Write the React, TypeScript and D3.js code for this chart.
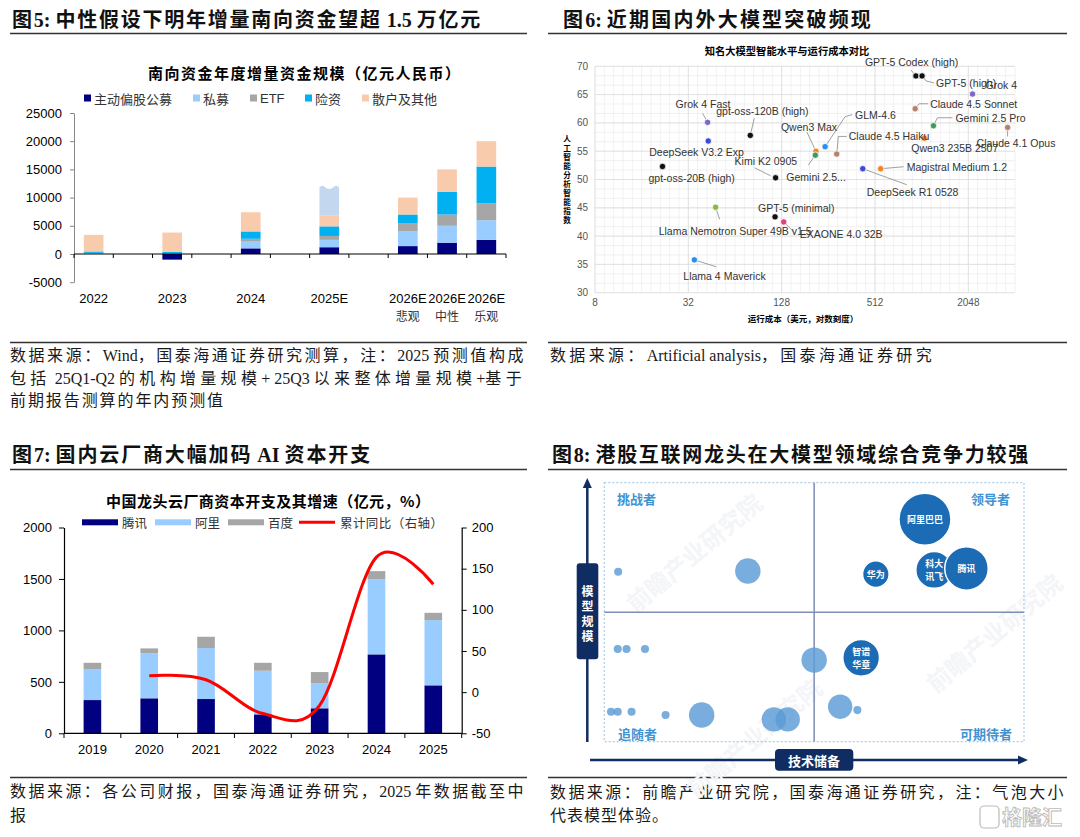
import React, { useEffect, useRef } from 'react';
import * as d3 from 'd3';

const W = 1080;
const H = 837;
const CJK = "'Noto Sans CJK SC', sans-serif";
const SERIF = "'Liberation Serif', 'Noto Sans CJK SC', serif";
const SANS = "'Liberation Sans', Arial, 'Noto Sans CJK SC', sans-serif";

// ---------- 图5 南向资金 ----------
const flowChartTitle = '南向资金年度增量资金规模（亿元人民币）';
const flowCategories = ['2022', '', '2023', '', '2024', '', '2025E', '', '2026E', '2026E', '2026E'];
const flowSubLabels = ['', '', '', '', '', '', '', '', '悲观', '中性', '乐观'];
const flowSeries = ['主动偏股公募', '私募', 'ETF', '险资', '散户及其他'];
const activeFund = [0, 0, -1000, 0, 1000, 0, 1200, 0, 1400, 2000, 2500];
const privateFund = [100, 0, 0, 0, 1200, 0, 1300, 0, 2600, 3000, 3500];
const etfFlow = [100, 0, 150, 0, 500, 0, 700, 0, 1400, 2000, 3000];
const insuranceFlow = [250, 0, 250, 0, 1300, 0, 1700, 0, 1600, 4000, 6500];
const retailFlow = [2950, 0, 3400, 0, 3400, 0, 1900, 0, 3000, 4000, 4500];
const forecast2025 = [0, 0, 0, 0, 0, 0, 5000, 0, 0, 0, 0];
const flowTicks = [-5000, 0, 5000, 10000, 15000, 20000, 25000];

// ---------- 图6 大模型 ----------
const modelChartTitle = '知名大模型智能水平与运行成本对比';
const modelLabels = [
  'GPT-5 Codex (high)', 'GPT-5 (high)', 'Grok 4', 'Claude 4.5 Sonnet', 'Gemini 2.5 Pro',
  'Claude 4.1 Opus', 'Qwen3 235B 2507', 'GLM-4.6', 'Claude 4.5 Haiku', 'Magistral Medium 1.2',
  'DeepSeek R1 0528', 'Qwen3 Max', 'Gemini 2.5...', 'Grok 4 Fast', 'gpt-oss-120B (high)',
  'DeepSeek V3.2 Exp', 'gpt-oss-20B (high)', 'Kimi K2 0905', 'Llama Nemotron Super 49B v1.5',
  'GPT-5 (minimal)', 'EXAONE 4.0 32B', 'Llama 4 Maverick'
];
const modelCost = [940, 1030, 2180, 930, 1220, 3670, 1065, 244, 290, 557, 427, 213, 211, 42.6, 80.3, 43, 21.8, 117, 48, 116, 132, 35];
const modelScore = [68.3, 68.3, 65.1, 62.5, 59.5, 59.2, 57.3, 55.8, 54.5, 51.9, 51.9, 55.0, 54.3, 60.1, 57.8, 56.8, 52.3, 50.3, 45.1, 43.4, 42.5, 35.8];
const modelColors = [
  '#111', '#111', '#7b68c8', '#b5826a', '#3f9b5a', '#b5826a', '#f5821f', '#2d8cf0', '#b5826a', '#f5821f',
  '#3b4bd6', '#f5821f', '#3f9b5a', '#7b68c8', '#111', '#3b4bd6', '#111', '#111', '#8db648', '#111', '#e5407a', '#2d8cf0'
];
// label placement relative to the dot (px) and leader polyline
const labelOffsets = [
  [-51, -14], [14, 7], [13, -9], [15, -5], [22, -8], [-31, 16], [-13, 10], [30, -32], [12, -18], [26, -2],
  [4, 23], [-35, -24], [-29, 22], [-32, -18], [-34, -24], [-59, 11], [-14, 12], [-41, -17], [-57, 24], [-17, -9], [16, 12], [-11, 16]
];
const leaders = [
  [[0, 0], [-5, -6]], [[0, 0], [4, 5], [12, 7]], null, [[0, 0], [4, -5], [13, -5]], [[0, 0], [4, -8], [19, -8]],
  [[0, 0], [0, 9]], null, [[0, 0], [20, -30], [27, -32]], [[0, 0], [1.6, -17.6], [10, -17.6]], [[0, 0], [23, -2]],
  [[0, 0], [44, 16]], [[0, 0], [-9, -19]], [[0, 0], [-7, 10]], [[0, 0], [-5, -9]], [[0, 0], [4, -17]],
  null, null, [[-5, -2], [-21, -10]], [[0, 0], [4, 12]], null, [[0, 0], [11, 11]], [[0, 0], [22, 7]]
];
const costTicks = [8, 32, 128, 512, 2048];
const scoreTicks = [30, 35, 40, 45, 50, 55, 60, 65, 70];

// ---------- 图7 资本开支 ----------
const capexChartTitle = '中国龙头云厂商资本开支及其增速（亿元，%）';
const capexYears = ['2019', '2020', '2021', '2022', '2023', '2024', '2025'];
const capexSeries = ['腾讯', '阿里', '百度'];
const tencentCapex = [323, 340, 333, 184, 243, 767, 466];
const alibabaCapex = [298, 437, 495, 424, 242, 728, 634];
const baiduCapex = [64, 48, 110, 77, 110, 81, 71];
const capexYoY = [null, 20, 15, -26, -16, 164, 131];
const capexLeftTicks = [0, 500, 1000, 1500, 2000];
const capexRightTicks = [-50, 0, 50, 100, 150, 200];

// ---------- 图8 竞争力气泡 ----------
const bubbleLabels = ['阿里巴巴', '科大\n讯飞', '腾讯', '华为', '智谱\n华章', '', '', '', '', '', '', '', '', '', '', '', '', '', '', ''];
const bubbleTech = [76.4, 78.6, 86.3, 64.7, 61.2, 3.3, 34.2, 3.2, 5.3, 9.7, 50.0, 56.2, 60.3, 1.6, 3.2, 6.5, 14.6, 23.2, 40.4, 43.7];
const bubbleScale = [85.9, 66.3, 66.9, 64.7, 32.4, 65.6, 65.9, 35.8, 35.8, 35.8, 31.5, 13.5, 12.2, 11.6, 11.6, 11.6, 10.3, 10.3, 8.6, 8.6];
const bubbleExperience = [100, 50, 70, 26, 50, 2.4, 24, 2.4, 2.4, 2.4, 24, 22, 2.4, 2.4, 2.4, 2.4, 2.4, 24, 22, 22];
const quadrantNames = ['挑战者', '领导者', '追随者', '可期待者'];

// ---------- titles & sources ----------
const panelTitles = [
  '图5: 中性假设下明年增量南向资金望超 1.5 万亿元',
  '图6: 近期国内外大模型突破频现',
  '图7: 国内云厂商大幅加码 AI 资本开支',
  '图8: 港股互联网龙头在大模型领域综合竞争力较强'
];
const sourceNotes = [
  ['数据来源：Wind，国泰海通证券研究测算，注：2025 预测值构成', '包括 25Q1-Q2 的机构增量规模+ 25Q3 以来整体增量规模+基于', '前期报告测算的年内预测值'],
  ['数据来源：Artificial analysis，国泰海通证券研究'],
  ['数据来源：各公司财报，国泰海通证券研究，2025 年数据截至中', '报'],
  ['数据来源：前瞻产业研究院，国泰海通证券研究，注：气泡大小', '代表模型体验。']
];

function addText(g: any, x: number, y: number, s: string, o: any = {}) {
  const t = g.append('text')
    .attr('x', x)
    .attr('y', y)
    .attr('font-family', o.family || CJK)
    .attr('font-size', o.size || 12)
    .attr('fill', o.fill || '#000')
    .text(s);
  if (o.weight) t.attr('font-weight', o.weight);
  if (o.anchor) t.attr('text-anchor', o.anchor);
  if (o.baseline) t.attr('dominant-baseline', o.baseline);
  if (o.length) t.attr('textLength', o.length).attr('lengthAdjust', 'spacing');
  return t;
}

// spread only the CJK runs so that the line fills the target width
const isWide = (s: string) => /[^\u0000-\u00ff]/.test(s);
function justify(t: any, target: number) {
  const s = t.text();
  t.text('');
  const runs: string[] = s.match(/[\u0000-\u00ff]+|[^\u0000-\u00ff]+/g) || [];
  const spans = runs.map(r => t.append('tspan').text(r));
  const L = (t.node() as SVGTextElement).getComputedTextLength();
  const n = runs.filter(isWide).reduce((a, r) => a + r.length, 0);
  if (!n) return;
  const ls = (target - L) / n;
  spans.forEach((sp, i) => {
    if (isWide(runs[i])) sp.attr('letter-spacing', ls);
  });
}

function drawFrames(svg: any) {
  const g = svg.append('g');
  const titlePos = [[12, 27, 470], [563, 27, 310], [12, 462, 360], [552, 462, 478]];
  panelTitles.forEach((t, i) => {
    const [x, y, w] = titlePos[i];
    justify(addText(g, x, y, t, { family: SERIF, size: 20, weight: 'bold', fill: '#111' }), w);
  });
  const ruleY = [33.5, 342.5, 469.5, 777.5];
  ruleY.forEach(y => {
    g.append('line').attr('x1', 10).attr('x2', 527).attr('y1', y).attr('y2', y).attr('stroke', '#333').attr('stroke-width', 1.4);
    g.append('line').attr('x1', 548).attr('x2', 1067).attr('y1', y).attr('y2', y).attr('stroke', '#333').attr('stroke-width', 1.4);
  });
  const notePos = [
    [[10, 361, 516], [10, 384, 516], [10, 406, 215]],
    [[550, 361, 385]],
    [[10, 797, 516], [10, 821, 0]],
    [[550, 798, 516], [550, 821, 119]]
  ];
  sourceNotes.forEach((lines, i) => {
    lines.forEach((s, j) => {
      const [x, y, w] = notePos[i][j];
      const t = addText(g, x, y, s, { family: SERIF, size: 16, fill: '#1a1a1a' });
      if (w) justify(t, w);
    });
  });
  // 格隆汇 watermark
  g.append('rect').attr('x', 980).attr('y', 806).attr('width', 19).attr('height', 22).attr('rx', 4)
    .attr('fill', 'none').attr('stroke', '#bbb').attr('stroke-width', 1.2);
  addText(g, 1002, 825, '格隆汇', { size: 20, fill: 'none', weight: 'bold' })
    .attr('stroke', '#bbb').attr('stroke-width', 0.9);
}

function drawFlows(svg: any) {
  const g = svg.append('g');
  addText(g, 304, 72, flowChartTitle, { size: 15, weight: 'bold', anchor: 'middle', baseline: 'central', length: 312 });
  const colors = ['#000080', '#99CCFF', '#A6A6A6', '#00B0F0', '#F8CBAD', '#C3D8EE'];
  const legendX = [84, 193, 250, 305, 362];
  flowSeries.forEach((s, i) => {
    g.append('rect').attr('x', legendX[i]).attr('y', 94.5).attr('width', 7).attr('height', 7).attr('fill', colors[i]);
    addText(g, legendX[i] + 10, 98, s, { size: 13, fill: '#333', baseline: 'central', family: s === 'ETF' ? SANS : CJK });
  });

  const idx = d3.range(flowCategories.length);
  const x = d3.scaleBand<number>().domain(idx).range([74, 506]).paddingInner(0.5).paddingOuter(0.25);
  const y = d3.scaleLinear().domain([-5000, 25000]).range([282.2, 113]);
  const rows = idx.map(i => ({
    a: activeFund[i], p: privateFund[i], e: etfFlow[i], n: insuranceFlow[i], r: retailFlow[i], f: forecast2025[i]
  }));
  const layers = d3.stack<any>().keys(['a', 'p', 'e', 'n', 'r', 'f']).offset(d3.stackOffsetDiverging)(rows);
  const bw = x.bandwidth();
  layers.forEach((layer, li) => {
    layer.forEach((d, i) => {
      if (d[1] === d[0]) return;
      const x0 = x(i) as number;
      const top = y(Math.max(d[0], d[1]));
      const bot = y(Math.min(d[0], d[1]));
      if (li === 5) {
        const t = top;
        g.append('path')
          .attr('d', `M${x0},${bot} L${x0},${t} Q${x0 + bw * 0.1},${t - 3} ${x0 + bw * 0.25},${t - 1} Q${x0 + bw * 0.5},${t + 4} ${x0 + bw * 0.75},${t - 1} Q${x0 + bw * 0.9},${t - 3} ${x0 + bw},${t} L${x0 + bw},${bot} Z`)
          .attr('fill', colors[5]);
      } else {
        g.append('rect').attr('x', x0).attr('y', top).attr('width', bw).attr('height', bot - top).attr('fill', colors[li]);
      }
    });
  });

  const ya = g.append('g').attr('transform', 'translate(74,0)')
    .call(d3.axisLeft(y).tickValues(flowTicks).tickSize(4).tickSizeOuter(0).tickPadding(8).tickFormat(d => String(d)));
  ya.select('.domain').attr('stroke', '#888');
  ya.selectAll('line').attr('stroke', '#888');
  ya.selectAll('text').attr('font-size', 13).attr('font-family', SANS).attr('fill', '#000');

  const y0 = y(0);
  g.append('line').attr('x1', 74).attr('x2', 506).attr('y1', y0).attr('y2', y0).attr('stroke', '#000').attr('stroke-width', 1.2);
  const step = x.step();
  d3.range(flowCategories.length + 1).forEach(i => {
    const tx = 74 + i * step;
    g.append('line').attr('x1', tx).attr('x2', tx).attr('y1', y0).attr('y2', y0 + 4).attr('stroke', '#000');
  });
  flowCategories.forEach((c, i) => {
    const cx = (x(i) as number) + bw / 2;
    if (c) addText(g, cx, 303, c, { family: SANS, size: 13, anchor: 'middle' });
    if (flowSubLabels[i]) addText(g, cx, 321, flowSubLabels[i], { size: 12, anchor: 'middle', fill: '#333' });
  });
}

function drawModels(svg: any) {
  const g = svg.append('g');
  const x = d3.scaleLog().base(2).domain([8, 4096]).range([595, 1015]);
  const y = d3.scaleLinear().domain([30, 70]).range([292.7, 66.3]);

  // grid: fine lines plus major lines
  for (let k = 3; k <= 12.0001; k += 0.2) {
    const gx = x(Math.pow(2, k));
    g.append('line').attr('x1', gx).attr('x2', gx).attr('y1', y(70)).attr('y2', y(30)).attr('stroke', '#eeeeee').attr('stroke-width', 0.8);
  }
  for (let v = 30; v <= 70.0001; v += 5 / 3) {
    const gy = y(v);
    g.append('line').attr('x1', 595).attr('x2', 1015).attr('y1', gy).attr('y2', gy).attr('stroke', '#eeeeee').attr('stroke-width', 0.8);
  }
  scoreTicks.forEach(v => {
    g.append('line').attr('x1', 595).attr('x2', 1015).attr('y1', y(v)).attr('y2', y(v)).attr('stroke', '#dddddd').attr('stroke-width', 0.8);
    addText(g, 588, y(v), String(v), { family: SANS, size: 10, fill: '#555', anchor: 'end', baseline: 'central' });
  });
  costTicks.forEach(v => {
    g.append('line').attr('x1', x(v)).attr('x2', x(v)).attr('y1', y(70)).attr('y2', y(30)).attr('stroke', '#dddddd').attr('stroke-width', 0.8);
    addText(g, x(v), 306, String(v), { family: SANS, size: 10, fill: '#555', anchor: 'middle' });
  });

  addText(g, 787, 50, modelChartTitle, { size: 10.3, weight: 'bold', anchor: 'middle', baseline: 'central' });
  addText(g, 803, 318, '运行成本（美元，对数刻度）', { size: 8.5, weight: 'bold', anchor: 'middle', baseline: 'central' });
  '人工智能分析智能指数'.split('').forEach((ch, i) => {
    addText(g, 567, 138 + i * 9, ch, { size: 7.6, weight: 'bold', anchor: 'middle', baseline: 'central' });
  });

  const pts = modelLabels.map((_, i) => [x(modelCost[i]), y(modelScore[i])]);
  leaders.forEach((ld, i) => {
    if (!ld) return;
    const [px, py] = pts[i];
    g.append('path')
      .attr('d', d3.line()(ld.map(p => [px + p[0], py + p[1]]) as any))
      .attr('fill', 'none').attr('stroke', '#888').attr('stroke-width', 0.8);
  });
  pts.forEach(([px, py], i) => {
    g.append('circle').attr('cx', px).attr('cy', py).attr('r', 3.2)
      .attr('fill', modelColors[i]).attr('stroke', '#fff').attr('stroke-width', 0.8);
  });
  pts.forEach(([px, py], i) => {
    const [dx, dy] = labelOffsets[i];
    addText(g, px + dx, py + dy, modelLabels[i], { family: SANS, size: 10.5, fill: '#333', baseline: 'central' });
  });
}

function drawCapex(svg: any) {
  const g = svg.append('g');
  addText(g, 268, 500, capexChartTitle, { size: 15, weight: 'bold', anchor: 'middle', baseline: 'central', length: 324 });
  const colors = ['#000080', '#99CCFF', '#A6A6A6'];
  const legendX = [82, 155, 228];
  capexSeries.forEach((s, i) => {
    g.append('rect').attr('x', legendX[i]).attr('y', 519.3).attr('width', 36).attr('height', 6).attr('fill', colors[i]);
    addText(g, legendX[i] + 40, 522.3, s, { size: 12.5, fill: '#333', baseline: 'central' });
  });
  g.append('line').attr('x1', 299).attr('x2', 335).attr('y1', 522.3).attr('y2', 522.3).attr('stroke', '#FF0000').attr('stroke-width', 3);
  addText(g, 340, 522.3, '累计同比（右轴）', { size: 12.5, fill: '#333', baseline: 'central', length: 103 });

  const x = d3.scaleBand().domain(capexYears).range([64, 461.7]).paddingInner(0.69).paddingOuter(0.345);
  const yL = d3.scaleLinear().domain([0, 2000]).range([733.3, 527.5]);
  const yR = d3.scaleLinear().domain([-50, 200]).range([733.3, 527.5]);
  const bw = x.bandwidth();
  const rows = capexYears.map((_, i) => ({ t: tencentCapex[i], a: alibabaCapex[i], b: baiduCapex[i] }));
  const layers = d3.stack<any>().keys(['t', 'a', 'b'])(rows);
  layers.forEach((layer, li) => {
    layer.forEach((d, i) => {
      g.append('rect')
        .attr('x', x(capexYears[i]) as number)
        .attr('y', yL(d[1]))
        .attr('width', bw)
        .attr('height', yL(d[0]) - yL(d[1]))
        .attr('fill', colors[li]);
    });
  });

  const pts = capexYears
    .map((yr, i) => [(x(yr) as number) + bw / 2, capexYoY[i]] as [number, number | null])
    .filter(p => p[1] !== null)
    .map(p => [p[0], yR(p[1] as number)] as [number, number]);
  g.append('path')
    .attr('d', d3.line().curve(d3.curveCardinal.tension(0))(pts))
    .attr('fill', 'none').attr('stroke', '#FF0000').attr('stroke-width', 3);

  const la = g.append('g').attr('transform', 'translate(64,0)')
    .call(d3.axisLeft(yL).tickValues(capexLeftTicks).tickSize(5).tickSizeOuter(0).tickPadding(7).tickFormat(d => String(d)));
  const ra = g.append('g').attr('transform', 'translate(461.7,0)')
    .call(d3.axisRight(yR).tickValues(capexRightTicks).tickSize(5).tickSizeOuter(0).tickPadding(5).tickFormat(d => String(d)));
  [la, ra].forEach(a => {
    a.select('.domain').attr('stroke', '#000').attr('stroke-width', 1.2);
    a.selectAll('line').attr('stroke', '#000');
    a.selectAll('text').attr('font-size', 13).attr('font-family', SANS).attr('fill', '#000');
  });
  g.append('line').attr('x1', 64).attr('x2', 461.7).attr('y1', 733.3).attr('y2', 733.3).attr('stroke', '#000').attr('stroke-width', 1.2);
  d3.range(capexYears.length + 1).forEach(i => {
    const tx = 64 + i * x.step();
    g.append('line').attr('x1', tx).attr('x2', tx).attr('y1', 733.3).attr('y2', 738).attr('stroke', '#000');
  });
  capexYears.forEach(yr => {
    addText(g, (x(yr) as number) + bw / 2, 754, yr, { family: SANS, size: 13, anchor: 'middle' });
  });
}

function drawQuadrant(svg: any) {
  const g = svg.append('g');
  const x = d3.scaleLinear().domain([0, 100]).range([604.3, 1024]);
  const y = d3.scaleLinear().domain([0, 100]).range([741.7, 482.7]);
  const r = d3.scaleSqrt().domain([0, 100]).range([0, 26]);
  const navy = '#0f2d62';

  // faint watermark
  [[700, 560], [1000, 640], [760, 745]].forEach(([wx, wy]) => {
    addText(g, wx, wy, '前瞻产业研究院', { size: 24, weight: 'bold', fill: '#f3f5f8', anchor: 'middle' })
      .attr('transform', `rotate(-40 ${wx} ${wy})`);
  });

  g.append('rect').attr('x', x(0)).attr('y', y(100)).attr('width', x(100) - x(0)).attr('height', y(0) - y(100))
    .attr('fill', 'none').attr('stroke', '#a9cde8').attr('stroke-width', 1.2).attr('stroke-dasharray', '2,2');
  g.append('line').attr('x1', x(50)).attr('x2', x(50)).attr('y1', y(100)).attr('y2', y(0)).attr('stroke', '#7d8db5').attr('stroke-width', 1.5);
  g.append('line').attr('x1', x(0)).attr('x2', x(100)).attr('y1', y(50)).attr('y2', y(50)).attr('stroke', '#7d8db5').attr('stroke-width', 1.5);

  const qColor = '#3f93d2';
  addText(g, 617, 498, quadrantNames[0], { size: 13, weight: 'bold', fill: qColor, baseline: 'central' });
  addText(g, 1010, 498, quadrantNames[1], { size: 13, weight: 'bold', fill: qColor, baseline: 'central', anchor: 'end' });
  addText(g, 618, 733, quadrantNames[2], { size: 13, weight: 'bold', fill: qColor, baseline: 'central' });
  addText(g, 1012, 733, quadrantNames[3], { size: 13, weight: 'bold', fill: qColor, baseline: 'central', anchor: 'end' });

  // axes arrows
  g.append('line').attr('x1', 587.3).attr('x2', 587.3).attr('y1', 742).attr('y2', 485).attr('stroke', navy).attr('stroke-width', 2.5);
  g.append('path').attr('d', 'M587.3,478 L582.8,488 L591.8,488 Z').attr('fill', navy);
  g.append('rect').attr('x', 576.7).attr('y', 563.3).attr('width', 21.6).attr('height', 96).attr('rx', 3).attr('fill', navy);
  '模型规模'.split('').forEach((ch, i) => {
    addText(g, 587.5, 590 + i * 15, ch, { size: 12, weight: 'bold', fill: '#fff', anchor: 'middle', baseline: 'central' });
  });
  g.append('line').attr('x1', 590).attr('x2', 1020).attr('y1', 760).attr('y2', 760).attr('stroke', navy).attr('stroke-width', 2.5);
  g.append('path').attr('d', 'M1028,760 L1018,755.5 L1018,764.5 Z').attr('fill', navy);
  g.append('rect').attr('x', 775).attr('y', 749).attr('width', 78.3).attr('height', 21.7).attr('rx', 4).attr('fill', navy);
  addText(g, 814, 760, '技术储备', { size: 13, weight: 'bold', fill: '#fff', anchor: 'middle', baseline: 'central' });

  // light bubbles first, then named ones
  bubbleLabels.forEach((lab, i) => {
    if (lab) return;
    g.append('circle').attr('cx', x(bubbleTech[i])).attr('cy', y(bubbleScale[i])).attr('r', r(bubbleExperience[i]))
      .attr('fill', '#5b9bd5').attr('opacity', 0.82);
  });
  bubbleLabels.forEach((lab, i) => {
    if (!lab) return;
    const cx = x(bubbleTech[i]);
    const cy = y(bubbleScale[i]);
    g.append('circle').attr('cx', cx).attr('cy', cy).attr('r', r(bubbleExperience[i]))
      .attr('fill', '#1b6cb5').attr('stroke', '#fff').attr('stroke-width', 1.5);
    const lines = lab.split('\n');
    lines.forEach((ln, j) => {
      addText(g, cx, cy + (j - (lines.length - 1) / 2) * 12.5, ln, {
        size: 9, weight: 'bold', fill: '#fff', anchor: 'middle', baseline: 'central'
      });
    });
  });
}

export default function App() {
  const svgRef = useRef<SVGSVGElement>(null);

  useEffect(() => {
    if (!svgRef.current) return;
    const svg = d3.select(svgRef.current);
    svg.selectAll('*').remove();
    svg.append('rect').attr('width', W).attr('height', H).attr('fill', '#fff');
    drawFrames(svg);
    drawFlows(svg);
    drawModels(svg);
    drawCapex(svg);
    drawQuadrant(svg);
  }, []);

  return (
    <div style={{ position: 'absolute', left: 0, top: 0, width: W, height: H }}>
      <svg ref={svgRef} width={W} height={H} style={{ display: 'block' }} />
    </div>
  );
}
